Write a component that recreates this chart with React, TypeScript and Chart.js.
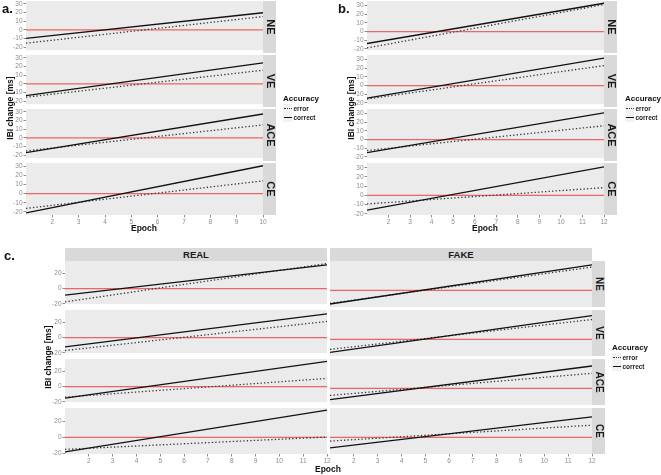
import React, { useEffect, useRef } from "react";
import { Chart, registerables } from "chart.js";
Chart.register(...registerables);

const FONT = '"Liberation Sans", Arial, sans-serif';

// ---------------- data ----------------
const conditions = ["NE", "VE", "ACE", "CE"];
const groups = ["REAL", "FAKE"];
const legendItems = ["error", "correct"];

const epochRangeA = [1, 10];
const epochRangeB = [1, 12];
const epochRangeC = [1, 12];
const epochTicksA = [2, 3, 4, 5, 6, 7, 8, 9, 10];
const epochTicksB = [2, 3, 4, 5, 6, 7, 8, 9, 10, 11, 12];
const epochTicksC = [2, 3, 4, 5, 6, 7, 8, 9, 10, 11, 12];
const ibiTicksAB = [-20, -10, 0, 10, 20, 30];
const ibiTicksC = [-20, 0, 20];
const ibiRangeA = [-23.4, 33.4];
const ibiRangeB = [-21.4, 35.2];
const ibiRangeC = [-20.4, 36.2];
const referenceLine = [0, 0];

// panel a (NE, VE, ACE, CE): [value at first epoch, value at last epoch]
const aCorrect = [[-9.9, 19.8], [-13.6, 24.3], [-17.0, 27.6], [-21.0, 30.4]];
const aError = [[-15.4, 15.4], [-15.4, 15.8], [-15.1, 15.0], [-16.2, 13.9]];
// panel b
const bCorrect = [[-13.8, 32.6], [-14.5, 31.5], [-15.2, 30.8], [-16.0, 31.0]];
const bError = [[-18.9, 31.1], [-15.6, 23.0], [-12.7, 15.9], [-9.4, 8.4]];
// panel c
const cRealCorrect = [[-8.6, 31.0], [-12.3, 31.0], [-15.1, 33.0], [-17.7, 33.5]];
const cRealError = [[-17.5, 33.0], [-17.0, 21.2], [-13.9, 10.7], [-14.7, 0.5]];
const cFakeCorrect = [[-16.7, 31.5], [-16.0, 29.4], [-13.9, 27.6], [-12.8, 25.3]];
const cFakeError = [[-16.0, 28.7], [-12.3, 24.5], [-8.6, 18.6], [-4.5, 15.1]];

// ---------------- layout ----------------
const PANEL_BG = "#ebebeb";
const STRIP_BG = "#d9d9d9";
const TICK_COLOR = "#8c8c8c";
const Y_AXIS_W = 22;
const X_AXIS_H = 12;
const PAD = { top: 6, right: 7, bottom: 2, left: 2 };

const bgPlugin = {
  id: "panelBg",
  beforeDraw(chart: any) {
    const { ctx, chartArea } = chart;
    ctx.save();
    ctx.fillStyle = PANEL_BG;
    ctx.fillRect(chartArea.left, chartArea.top, chartArea.right - chartArea.left, chartArea.bottom - chartArea.top);
    ctx.restore();
  },
};

type PanelProps = {
  left: number; top: number; width: number; height: number;
  xRange: number[]; xTicks: number[]; yRange: number[]; yTicks: number[];
  showX: boolean; showY: boolean; correct: number[]; error: number[];
};

function Panel(p: PanelProps) {
  const ref = useRef<HTMLCanvasElement>(null);
  const cw = p.width + PAD.left + PAD.right + (p.showY ? Y_AXIS_W : 0);
  const ch = p.height + PAD.top + PAD.bottom + (p.showX ? X_AXIS_H : 0);
  const cl = p.left - PAD.left - (p.showY ? Y_AXIS_W : 0);
  const ct = p.top - PAD.top;
  useEffect(() => {
    const toPts = (vals: number[]) => p.xRange.map((x, i) => ({ x, y: vals[i] }));
    const tickFont = { size: 6.5, family: FONT };
    const chart = new Chart(ref.current as HTMLCanvasElement, {
      type: "line",
      data: {
        datasets: [
          { label: "correct", data: toPts(p.correct), borderColor: "#111", borderWidth: 1.3, pointRadius: 0, tension: 0 },
          { label: "error", data: toPts(p.error), borderColor: "#333", borderWidth: 1.3, borderDash: [1.3, 2.2], pointRadius: 0, tension: 0 },
          { label: "zero", data: toPts(referenceLine), borderColor: "#ef6464", borderWidth: 1.3, pointRadius: 0, tension: 0 },
        ],
      },
      options: {
        animation: false,
        responsive: false,
        events: [],
        layout: { padding: PAD },
        plugins: { legend: { display: false }, tooltip: { enabled: false } },
        scales: {
          x: {
            type: "linear",
            min: p.xRange[0],
            max: p.xRange[1],
            display: p.showX,
            afterBuildTicks: (axis: any) => { axis.ticks = p.xTicks.map((v) => ({ value: v })); },
            afterFit: (axis: any) => { axis.height = p.showX ? X_AXIS_H : 0; },
            ticks: { font: tickFont, color: TICK_COLOR, maxRotation: 0, minRotation: 0, padding: 1, autoSkip: false },
            grid: { drawOnChartArea: false, drawTicks: true, tickLength: 2.5, color: TICK_COLOR },
            border: { display: false },
          },
          y: {
            type: "linear",
            min: p.yRange[0],
            max: p.yRange[1],
            display: p.showY,
            afterBuildTicks: (axis: any) => { axis.ticks = p.yTicks.map((v) => ({ value: v })); },
            afterFit: (axis: any) => { axis.width = p.showY ? Y_AXIS_W : 0; },
            ticks: { font: tickFont, color: TICK_COLOR, padding: 1, autoSkip: false },
            grid: { drawOnChartArea: false, drawTicks: true, tickLength: 2.5, color: TICK_COLOR },
            border: { display: false },
          },
        },
      },
      plugins: [bgPlugin],
    } as any);
    return () => chart.destroy();
  }, []);
  return (
    <canvas
      ref={ref}
      width={cw}
      height={ch}
      style={{ position: "absolute", left: cl, top: ct, width: cw, height: ch }}
    />
  );
}

function SideStrip({ left, top, width, height, text, size }: any) {
  return (
    <div style={{ position: "absolute", left, top, width, height, background: STRIP_BG }}>
      <div
        style={{
          position: "absolute", left: "50%", top: "50%",
          transform: "translate(-50%,-50%) rotate(90deg)",
          fontFamily: FONT, fontWeight: "bold", fontSize: size, whiteSpace: "nowrap", color: "#1a1a1a", lineHeight: 1,
        }}
      >
        {text}
      </div>
    </div>
  );
}

function TopStrip({ left, top, width, height, text }: any) {
  return (
    <div
      style={{
        position: "absolute", left, top, width, height, background: STRIP_BG,
        fontFamily: FONT, fontWeight: "bold", fontSize: 9.5, color: "#1a1a1a",
        display: "flex", alignItems: "center", justifyContent: "center", lineHeight: 1,
      }}
    >
      {text}
    </div>
  );
}

function Text({ x, y, text, size, rotate, anchor }: any) {
  const tx = anchor === "left" ? "0" : "-50%";
  return (
    <div
      style={{
        position: "absolute", left: x, top: y,
        transform: `translate(${tx},-50%)${rotate ? ` rotate(${rotate}deg)` : ""}`,
        transformOrigin: anchor === "left" ? "0 50%" : "50% 50%",
        fontFamily: FONT, fontWeight: "bold", fontSize: size, whiteSpace: "nowrap", color: "#111", lineHeight: 1,
      }}
    >
      {text}
    </div>
  );
}

function Legend({ left, top }: any) {
  return (
    <div style={{ position: "absolute", left, top: top - 5, fontFamily: FONT }}>
      <div style={{ fontWeight: "bold", fontSize: 8, lineHeight: "10px", color: "#111" }}>Accuracy</div>
      {legendItems.map((name) => (
        <div key={name} style={{ display: "flex", alignItems: "center", height: 9 }}>
          <div style={{ width: 9, height: 9, background: "#f2f2f2", position: "relative" }}>
            <div
              style={{
                position: "absolute", left: 0.5, right: 0.5, top: 4,
                borderTop: name === "error" ? "1.3px dotted #333" : "1.4px solid #111",
              }}
            />
          </div>
          <div style={{ fontSize: 6.5, fontWeight: "bold", marginLeft: 1.5, color: "#222" }}>{name}</div>
        </div>
      ))}
    </div>
  );
}

function FacetColumn({ left, width, tops, height, xRange, xTicks, yRange, yTicks, showY, correct, error }: any) {
  return (
    <>
      {conditions.map((c, i) => (
        <Panel
          key={c}
          left={left}
          top={tops[i]}
          width={width}
          height={height}
          xRange={xRange}
          xTicks={xTicks}
          yRange={yRange}
          yTicks={yTicks}
          showX={i === conditions.length - 1}
          showY={showY}
          correct={correct[i]}
          error={error[i]}
        />
      ))}
    </>
  );
}

export default function App() {
  const abTops = [1, 55, 109, 163];
  const abH = 52;
  const cTops = [261, 310, 359, 408];
  const cH = 46;
  return (
    <div style={{ position: "absolute", left: 0, top: 0, width: 661, height: 475, background: "#fff", overflow: "hidden" }}>
      {/* a */}
      <FacetColumn left={26} width={237} tops={abTops} height={abH} xRange={epochRangeA} xTicks={epochTicksA}
        yRange={ibiRangeA} yTicks={ibiTicksAB} showY={true} correct={aCorrect} error={aError} />
      {conditions.map((c, i) => (
        <SideStrip key={"a" + c} left={263} top={abTops[i]} width={13} height={abH} text={c} size={11} />
      ))}
      <Text x={144} y={228} text="Epoch" size={8.5} />
      <Text x={10} y={108} text="IBI change [ms]" size={8.5} rotate={-90} />
      <Legend left={283} top={99} />
      <Text x={2} y={8} text="a." size={13} anchor="left" />

      {/* b */}
      <FacetColumn left={367} width={237} tops={abTops} height={abH} xRange={epochRangeB} xTicks={epochTicksB}
        yRange={ibiRangeB} yTicks={ibiTicksAB} showY={true} correct={bCorrect} error={bError} />
      {conditions.map((c, i) => (
        <SideStrip key={"b" + c} left={604} top={abTops[i]} width={13} height={abH} text={c} size={11} />
      ))}
      <Text x={485} y={228} text="Epoch" size={8.5} />
      <Text x={351} y={108} text="IBI change [ms]" size={8.5} rotate={-90} />
      <Legend left={625} top={99} />
      <Text x={338} y={8} text="b." size={13} anchor="left" />

      {/* c */}
      <FacetColumn left={65} width={262} tops={cTops} height={cH} xRange={epochRangeC} xTicks={epochTicksC}
        yRange={ibiRangeC} yTicks={ibiTicksC} showY={true} correct={cRealCorrect} error={cRealError} />
      <FacetColumn left={330} width={262} tops={cTops} height={cH} xRange={epochRangeC} xTicks={epochTicksC}
        yRange={ibiRangeC} yTicks={ibiTicksC} showY={false} correct={cFakeCorrect} error={cFakeError} />
      <TopStrip left={65} top={248} width={262} height={13} text={groups[0]} />
      <TopStrip left={330} top={248} width={262} height={13} text={groups[1]} />
      {conditions.map((c, i) => (
        <SideStrip key={"c" + c} left={592} top={cTops[i]} width={13} height={cH} text={c} size={10} />
      ))}
      <Text x={328} y={469} text="Epoch" size={8.5} />
      <Text x={48} y={357} text="IBI change [ms]" size={8.5} rotate={-90} />
      <Legend left={612} top={348} />
      <Text x={4} y={255} text="c." size={13} anchor="left" />
    </div>
  );
}
